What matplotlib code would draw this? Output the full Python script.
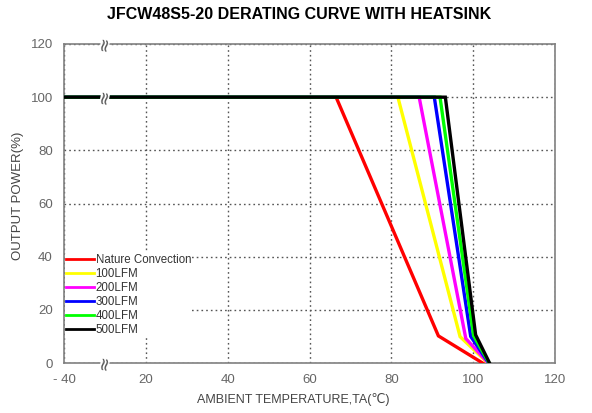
import numpy as np
import matplotlib
matplotlib.use("Agg")
import matplotlib.pyplot as plt

# series: temperatures (deg C) and output power (%)
# the start point -40 sits at the left edge of the broken axis
names = ['Nature Convection', '100LFM', '200LFM', '300LFM', '400LFM', '500LFM']
colors = ['#ff0000', '#ffff00', '#ff00ff', '#0000ff', '#00ff00', '#000000']
temps = [
    [-40, 66.5, 91.5, 102.3],
    [-40, 81.6, 96.8, 103.6],
    [-40, 86.8, 98.2, 103.7],
    [-40, 90.5, 99.4, 103.8],
    [-40, 91.9, 100.1, 103.9],
    [-40, 93.2, 100.6, 104.0],
]
powers = [
    [100, 100, 10.2, 0],
    [100, 100, 9.9, 0],
    [100, 100, 9.2, 0],
    [100, 100, 10.0, 0],
    [100, 100, 10.3, 0],
    [100, 100, 10.6, 0],
]
xticks = [0, 20, 40, 60, 80, 100, 120]
xticklabels = ['- 40', '20', '40', '60', '80', '100', '120']
yticks = [0, 20, 40, 60, 80, 100, 120]


def axis_pos(t):
    # broken axis: everything below 0 collapses onto the left edge
    t = np.asarray(t, dtype=float)
    return np.where(t < 0, 0, t)


fig = plt.figure(figsize=(5.92, 4.13), dpi=100)
ax = fig.add_axes([64/592, 1-363/413, 491/592, 319/413])

gray = '#808080'
for s in ax.spines.values():
    s.set_color(gray)
    s.set_linewidth(1.2)

ax.set_xlim(0, 120)
ax.set_ylim(0, 120)
ax.set_xticks(xticks)
ax.set_xticklabels(xticklabels)
ax.set_yticks(yticks)
ax.tick_params(length=0, labelsize=9.5, colors='#666666', pad=8)
for lab in ax.get_xticklabels() + ax.get_yticklabels():
    lab.set_family('Liberation Sans')

ax.grid(True, linestyle=(0, (1.2, 2.2)), color='#555555', linewidth=1.0)
ax.set_axisbelow(True)

for t, p, c, n in zip(temps, powers, colors, names):
    ax.plot(axis_pos(t), p, color=c, linewidth=2.4, label=n, solid_joinstyle='miter', zorder=3)

# break marks on the axis
for yy in [120, 100, 0]:
    ax.text(10, yy, '\u2248', rotation=80, ha='center', va='center',
            fontsize=13, color='#555555', zorder=5, clip_on=False,
            bbox=dict(facecolor='white', edgecolor='none', boxstyle='square,pad=-0.25'))

leg = ax.legend(loc='upper left', bbox_to_anchor=(0.002, 0.345), frameon=True,
                borderpad=0.1, borderaxespad=0, handlelength=2.4, handletextpad=0.15,
                labelspacing=0.17, prop={'family': 'Liberation Sans', 'size': 8.3})
leg.get_frame().set_edgecolor('none')
leg.get_frame().set_facecolor('white')
leg.get_frame().set_alpha(1)
for txt in leg.get_texts():
    txt.set_color('#333333')
for h in leg.get_lines():
    h.set_linewidth(2.0)

fig.text(293/592, 1-400/413, 'AMBIENT TEMPERATURE,TA(\u2103)', fontsize=9, color='#444444',
         family=['Liberation Sans', 'DejaVu Sans'], ha='center', va='center')
fig.text(18/592, 1-196/413, 'OUTPUT POWER(%)', fontsize=9.5, color='#444444',
         family='Liberation Sans', ha='center', va='center', rotation=90)

fig.text(0.505, 0.965, 'JFCW48S5-20 DERATING CURVE WITH HEATSINK', ha='center', va='center',
         fontsize=11.5, fontweight='bold', family='Liberation Sans')

fig.savefig('out.png', dpi=100)
